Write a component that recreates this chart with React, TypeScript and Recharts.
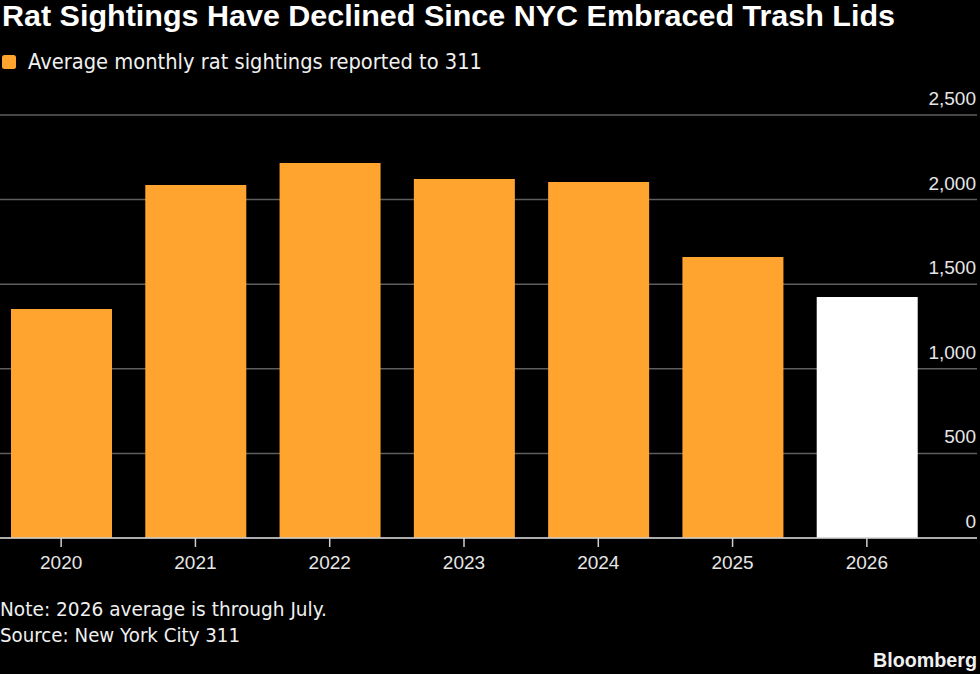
import React from "react";
import { BarChart, Bar, XAxis, YAxis, CartesianGrid, Cell } from "recharts";

const years = ["2020", "2021", "2022", "2023", "2024", "2025", "2026"];
const sightings = [1353, 2086, 2216, 2122, 2104, 1661, 1424];
const barColors = ["#FFA52F", "#FFA52F", "#FFA52F", "#FFA52F", "#FFA52F", "#FFA52F", "#FFFFFF"];
const yTicks = [0, 500, 1000, 1500, 2000, 2500];

const title = "Rat Sightings Have Declined Since NYC Embraced Trash Lids";
const legendLabel = "Average monthly rat sightings reported to 311";
const note = "Note: 2026 average is through July.";
const source = "Source: New York City 311";
const brand = "Bloomberg";

const data = years.map((y, i) => ({ year: y, value: sightings[i], color: barColors[i] }));

const TICK_FONT = "'Liberation Sans', Arial, sans-serif";
const TEXT_FONT = "'DejaVu Sans', Verdana, sans-serif";
const BOLD_FONT = "'Liberation Sans', Arial, sans-serif";

const YTick = (props: any) => {
  const { y, payload } = props;
  return (
    <text x={983} y={y - 10} textAnchor="end" fill="#e6e6e6" fontSize={19} fontFamily={TICK_FONT}>
      {Number(payload.value).toLocaleString("en-US")}
    </text>
  );
};

const XTick = (props: any) => {
  const { x, y, payload } = props;
  return (
    <text x={x} y={y + 20} textAnchor="middle" fill="#e6e6e6" fontSize={19} fontFamily={TICK_FONT}>
      {payload.value}
    </text>
  );
};

export default function App() {
  return (
    <div
      style={{
        position: "absolute",
        left: 0,
        top: 0,
        width: 980,
        height: 674,
        background: "#000",
        overflow: "hidden",
      }}
    >
      <div style={{ position: "absolute", left: -7, top: 0 }}>
        <BarChart
          width={990}
          height={578}
          data={data}
          margin={{ top: 115, right: 5, bottom: 0, left: 1 }}
        >
          <CartesianGrid horizontal vertical={false} stroke="#5e5e5e" strokeWidth={1.5} />
          <XAxis
            dataKey="year"
            height={40}
            padding={{ left: 0, right: 43 }}
            axisLine={{ stroke: "#cfcfcf", strokeWidth: 1.5 }}
            tickLine={{ stroke: "#cfcfcf", strokeWidth: 1.5 }}
            tickSize={9}
            tick={<XTick />}
            interval={0}
          />
          <YAxis
            orientation="right"
            width={1}
            domain={[0, 2500]}
            ticks={yTicks}
            axisLine={false}
            tickLine={false}
            tick={<YTick />}
            interval={0}
          />
          <Bar dataKey="value" barSize={101} isAnimationActive={false}>
            {data.map((d, i) => (
              <Cell key={i} fill={d.color} />
            ))}
          </Bar>
        </BarChart>
      </div>
      <svg
        width={980}
        height={674}
        style={{ position: "absolute", left: 0, top: 0, pointerEvents: "none" }}
      >
        <text
          x={2}
          y={26}
          fill="#ffffff"
          fontSize={29}
          fontWeight="bold"
          fontFamily={BOLD_FONT}
          textLength={893}
          lengthAdjust="spacingAndGlyphs"
        >
          {title}
        </text>
        <rect x={2} y={55} width={14} height={14} rx={2.5} fill="#FFA52F" />
        <text
          x={28}
          y={69}
          fill="#f0f0f0"
          fontSize={21}
          fontFamily={TEXT_FONT}
          textLength={454}
          lengthAdjust="spacingAndGlyphs"
        >
          {legendLabel}
        </text>
        <text
          x={0}
          y={616}
          fill="#f0f0f0"
          fontSize={19}
          fontFamily={TEXT_FONT}
          textLength={327}
          lengthAdjust="spacingAndGlyphs"
        >
          {note}
        </text>
        <text
          x={0}
          y={642}
          fill="#f0f0f0"
          fontSize={19}
          fontFamily={TEXT_FONT}
          textLength={240}
          lengthAdjust="spacingAndGlyphs"
        >
          {source}
        </text>
        <text
          x={977}
          y={667}
          textAnchor="end"
          fill="#f0f0f0"
          fontSize={20}
          fontWeight="bold"
          fontFamily={BOLD_FONT}
          textLength={104}
          lengthAdjust="spacingAndGlyphs"
        >
          {brand}
        </text>
      </svg>
    </div>
  );
}
